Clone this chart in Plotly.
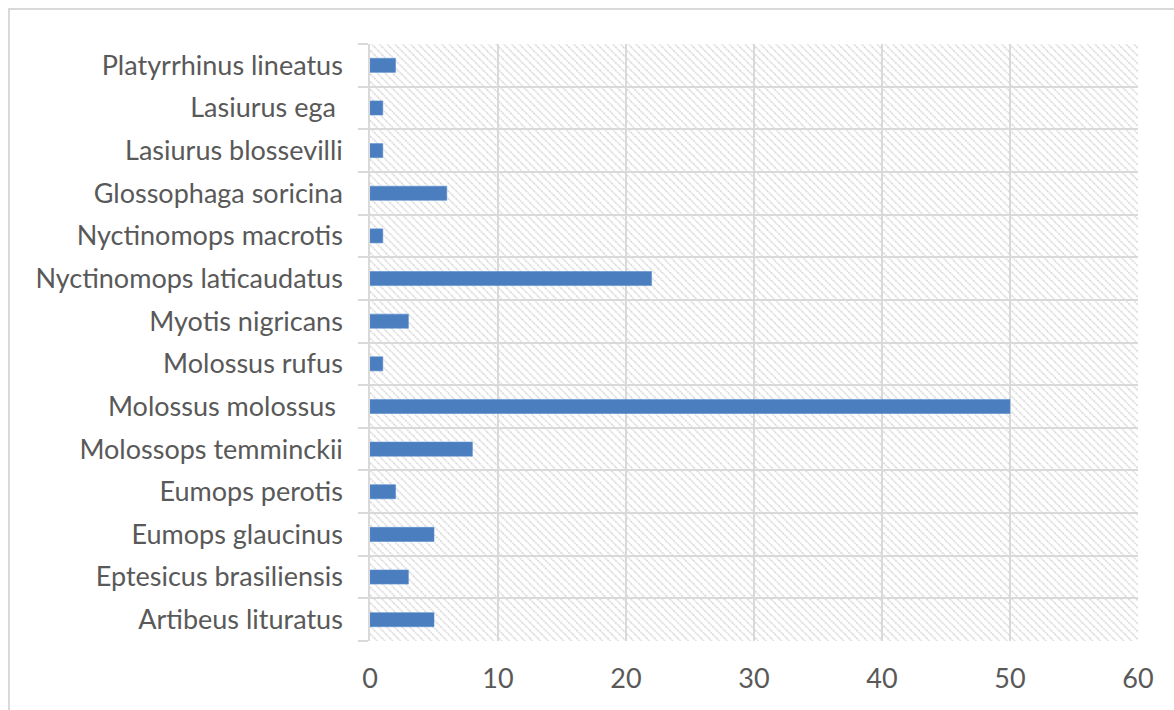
import base64
import plotly.graph_objects as go

# Bat species (bottom to top) and number of records
species = [
    "Artibeus lituratus",
    "Eptesicus brasiliensis",
    "Eumops glaucinus",
    "Eumops perotis",
    "Molossops temminckii",
    "Molossus molossus\u00a0",
    "Molossus rufus",
    "Myotis nigricans",
    "Nyctinomops laticaudatus",
    "Nyctinomops macrotis",
    "Glossophaga soricina",
    "Lasiurus blossevilli",
    "Lasiurus ega\u00a0",
    "Platyrrhinus lineatus",
]
counts = [5, 3, 5, 2, 8, 50, 1, 3, 22, 1, 6, 1, 1, 2]

x_ticks = [0, 10, 20, 30, 40, 50, 60]

W, H = 1174, 710
M_L, M_R, M_T, M_B = 370, 36, 44, 69
plot_w = W - M_L - M_R
plot_h = H - M_T - M_B

TEXT = "#595959"
GRID = "#d9d9d9"
BAR = "#4a7ebf"
FONT_SIZE = 27

# diagonal hatch used as the plot-area fill
hatch_svg = (
    f"<svg xmlns='http://www.w3.org/2000/svg' width='{plot_w}' height='{plot_h}'>"
    "<defs><pattern id='h' width='5.5' height='5.5' patternUnits='userSpaceOnUse' "
    "patternTransform='rotate(-45)'>"
    "<line x1='1' y1='0' x2='1' y2='5.5' stroke='#d6d6d6' stroke-width='1.5' "
    "stroke-dasharray='1.4 0.8'/></pattern></defs>"
    "<rect width='100%' height='100%' fill='url(#h)'/></svg>"
)
hatch_uri = "data:image/svg+xml;base64," + base64.b64encode(hatch_svg.encode()).decode()

fig = go.Figure(
    go.Bar(
        x=counts,
        y=species,
        orientation="h",
        width=0.33,
        marker=dict(color=BAR, line=dict(color="#5b8fd0", width=0.6)),
        hoverinfo="x+y",
    )
)

fig.update_layout(
    width=W,
    height=H,
    margin=dict(l=M_L, r=M_R, t=M_T, b=M_B, pad=0),
    paper_bgcolor="white",
    plot_bgcolor="white",
    showlegend=False,
    font=dict(family="Lato, 'Open Sans', sans-serif", size=FONT_SIZE, color=TEXT),
    images=[
        dict(
            source=hatch_uri,
            xref="paper",
            yref="paper",
            x=0,
            y=1,
            sizex=1,
            sizey=1,
            sizing="stretch",
            xanchor="left",
            yanchor="top",
            layer="below",
        )
    ],
    shapes=[
        # outer chart border
        dict(
            type="rect",
            xref="paper",
            yref="paper",
            x0=(9 - M_L) / plot_w,
            x1=(W + 5 - M_L) / plot_w,
            y0=-(M_B + 5) / plot_h,
            y1=1 + (M_T - 9) / plot_h,
            line=dict(color=GRID, width=2),
            fillcolor="rgba(0,0,0,0)",
            layer="below",
        )
    ],
)

fig.update_xaxes(
    range=[0, 60],
    tickvals=x_ticks,
    ticktext=[str(v) for v in x_ticks],
    showgrid=True,
    gridcolor=GRID,
    gridwidth=1.5,
    zeroline=False,
    showline=False,
    ticks="",
    ticklabelstandoff=19,
    tickfont=dict(size=FONT_SIZE, color=TEXT),
)

fig.update_yaxes(
    type="category",
    categoryorder="array",
    categoryarray=species,
    range=[-0.5, len(species) - 0.5],
    tickson="boundaries",
    showgrid=True,
    gridcolor=GRID,
    gridwidth=1.5,
    showline=True,
    linecolor=GRID,
    linewidth=1.5,
    ticks="outside",
    ticklen=10,
    tickcolor=GRID,
    tickwidth=1.5,
    ticklabelstandoff=20,
    tickfont=dict(size=FONT_SIZE, color=TEXT),
)

fig.write_html("out.html")
